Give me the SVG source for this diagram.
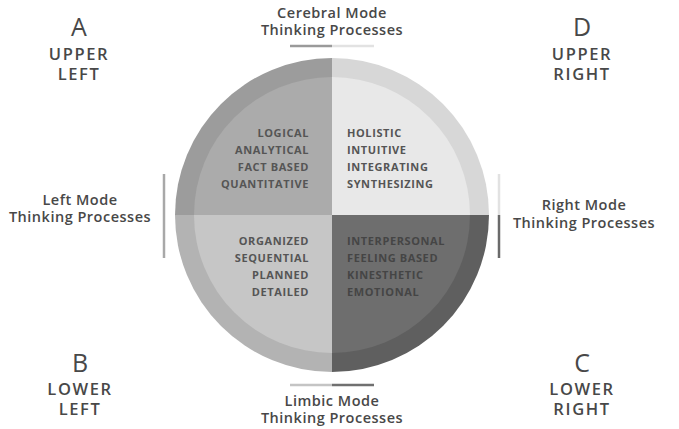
<svg xmlns="http://www.w3.org/2000/svg" width="679" height="429" viewBox="0 0 679 429">
<style>
.t{font-family:"Open Sans","Liberation Sans",sans-serif;fill:#484848;text-anchor:middle}
.big{font-size:25px;font-weight:400}
.cor{font-size:16.5px;font-weight:600;letter-spacing:1.6px}
.mode{font-size:14.5px;font-weight:600;letter-spacing:0.5px}
.q{font-family:"Open Sans","Liberation Sans",sans-serif;font-size:11px;font-weight:700;letter-spacing:0.6px;fill:#555}
.qr{text-anchor:end}
.qd{fill:#454545}
</style>
<rect width="679" height="429" fill="#ffffff"/>
<g id="circle">
<path d="M332,215 L175,215 A157,157 0 0 1 332,58 Z" fill="#9c9c9c"/>
<path d="M332,215 L332,58 A157,157 0 0 1 489,215 Z" fill="#d7d7d7"/>
<path d="M332,215 L489,215 A157,157 0 0 1 332,372 Z" fill="#5f5f5f"/>
<path d="M332,215 L332,372 A157,157 0 0 1 175,215 Z" fill="#b3b3b3"/>
<path d="M332,215 L194,215 A138,138 0 0 1 332,77 Z" fill="#ababab"/>
<path d="M332,215 L332,77 A138,138 0 0 1 470,215 Z" fill="#e8e8e8"/>
<path d="M332,215 L470,215 A138,138 0 0 1 332,353 Z" fill="#6e6e6e"/>
<path d="M332,215 L332,353 A138,138 0 0 1 194,215 Z" fill="#c6c6c6"/>
</g>
<g id="connectors" stroke-width="2.5" fill="none">
<line x1="290" y1="46" x2="332" y2="46" stroke="#9a9a9a"/>
<line x1="332" y1="46" x2="374" y2="46" stroke="#e2e2e2"/>
<line x1="290" y1="385" x2="332" y2="385" stroke="#c4c4c4"/>
<line x1="332" y1="385" x2="374" y2="385" stroke="#707070"/>
<line x1="164" y1="174" x2="164" y2="258" stroke="#a8a8a8"/>
<line x1="499" y1="174" x2="499" y2="215" stroke="#e2e2e2"/>
<line x1="499" y1="215" x2="499" y2="258" stroke="#6a6a6a"/>
</g>
<g id="quadA">
<text class="q qr" x="309" y="137">LOGICAL</text>
<text class="q qr" x="309" y="154">ANALYTICAL</text>
<text class="q qr" x="309" y="171">FACT BASED</text>
<text class="q qr" x="309" y="188">QUANTITATIVE</text>
</g>
<g id="quadD">
<text class="q" x="347" y="137">HOLISTIC</text>
<text class="q" x="347" y="154">INTUITIVE</text>
<text class="q" x="347" y="171">INTEGRATING</text>
<text class="q" x="347" y="188">SYNTHESIZING</text>
</g>
<g id="quadB">
<text class="q qr" x="309" y="245">ORGANIZED</text>
<text class="q qr" x="309" y="262">SEQUENTIAL</text>
<text class="q qr" x="309" y="279">PLANNED</text>
<text class="q qr" x="309" y="296">DETAILED</text>
</g>
<g id="quadC">
<text class="q qd" x="347" y="245">INTERPERSONAL</text>
<text class="q qd" x="347" y="262">FEELING BASED</text>
<text class="q qd" x="347" y="279">KINESTHETIC</text>
<text class="q qd" x="347" y="296">EMOTIONAL</text>
</g>
<g id="labelA">
<text class="t big" x="79" y="36">A</text>
<text class="t cor" x="79" y="60">UPPER</text>
<text class="t cor" x="79" y="80">LEFT</text>
</g>
<g id="labelD">
<text class="t big" x="582" y="36">D</text>
<text class="t cor" x="582" y="60">UPPER</text>
<text class="t cor" x="582" y="80">RIGHT</text>
</g>
<g id="labelB">
<text class="t big" x="80" y="372">B</text>
<text class="t cor" x="80" y="395">LOWER</text>
<text class="t cor" x="80" y="415">LEFT</text>
</g>
<g id="labelC">
<text class="t big" x="582" y="372">C</text>
<text class="t cor" x="582" y="395">LOWER</text>
<text class="t cor" x="582" y="415">RIGHT</text>
</g>
<g id="cerebral">
<text class="t mode" x="332" y="18">Cerebral Mode</text>
<text class="t mode" x="332" y="35">Thinking Processes</text>
</g>
<g id="limbic">
<text class="t mode" x="332" y="406">Limbic Mode</text>
<text class="t mode" x="332" y="423">Thinking Processes</text>
</g>
<g id="leftmode">
<text class="t mode" x="80" y="205">Left Mode</text>
<text class="t mode" x="80" y="222">Thinking Processes</text>
</g>
<g id="rightmode">
<text class="t mode" x="584" y="210">Right Mode</text>
<text class="t mode" x="584" y="228">Thinking Processes</text>
</g>
</svg>
